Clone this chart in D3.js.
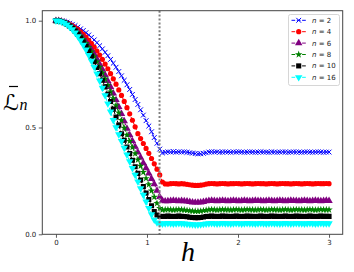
<!DOCTYPE html>
<html><head><meta charset="utf-8">
<script src="https://cdn.jsdelivr.net/npm/d3@7"></script>
<style>body{margin:0;background:#fff}svg{display:block}</style>
</head><body>
<svg id="chart" width="354" height="272"></svg>
<script>
// ---- data ----
const hStep = 0.03; // sample spacing in h (101 samples, h = 0 .. 3)
const seriesNames = ["n = 2","n = 4","n = 6","n = 8","n = 10","n = 16"];
const nLabels = ["2","4","6","8","10","16"];
const n2 = [1.000,0.9995,0.998,0.996,0.993,0.988,0.983,0.977,0.970,0.962,
0.954,0.944,0.933,0.922,0.910,0.897,0.883,0.868,0.852,0.836,
0.819,0.801,0.782,0.762,0.742,0.721,0.700,0.678,0.655,0.631,
0.608,0.583,0.558,0.532,0.507,0.480,0.453,0.426,0.399,0.381,
0.384,0.386,0.385,0.387,0.385,0.386,0.385,0.386,0.384,0.382,
0.380,0.378,0.377,0.377,0.379,0.382,0.385,0.386,0.385,0.386,
0.384,0.385,0.386,0.385,0.384,0.386,0.385,0.386,0.385,0.384,
0.385,0.386,0.385,0.384,0.385,0.386,0.385,0.385,0.384,0.386,
0.385,0.384,0.385,0.386,0.385,0.384,0.385,0.386,0.385,0.385,
0.384,0.385,0.386,0.385,0.384,0.385,0.386,0.385,0.384,0.385,
0.385];
const n4 = [1.000,0.9994,0.997,0.994,0.990,0.984,0.977,0.968,0.959,0.948,
0.936,0.923,0.908,0.893,0.876,0.858,0.839,0.819,0.797,0.775,
0.752,0.728,0.703,0.676,0.650,0.622,0.593,0.564,0.534,0.503,
0.471,0.448,0.425,0.402,0.379,0.355,0.330,0.305,0.278,0.245,
0.236,0.235,0.237,0.238,0.237,0.236,0.237,0.236,0.234,0.232,
0.230,0.229,0.229,0.230,0.232,0.235,0.237,0.238,0.237,0.236,
0.237,0.238,0.237,0.236,0.237,0.237,0.238,0.237,0.236,0.237,
0.238,0.237,0.236,0.237,0.238,0.237,0.237,0.236,0.237,0.238,
0.237,0.236,0.237,0.238,0.237,0.237,0.236,0.237,0.238,0.237,
0.236,0.237,0.238,0.237,0.236,0.237,0.238,0.237,0.237,0.238,
0.237];
const n6 = [1.000,0.9992,0.997,0.993,0.987,0.980,0.971,0.960,0.948,0.934,
0.919,0.902,0.884,0.865,0.844,0.821,0.797,0.772,0.746,0.718,
0.690,0.660,0.629,0.597,0.564,0.530,0.495,0.465,0.437,0.410,
0.384,0.359,0.334,0.310,0.285,0.260,0.235,0.205,0.175,0.158,
0.155,0.156,0.157,0.158,0.157,0.156,0.157,0.156,0.154,0.152,
0.150,0.149,0.149,0.150,0.152,0.155,0.157,0.158,0.157,0.156,
0.157,0.158,0.157,0.156,0.157,0.158,0.157,0.156,0.157,0.158,
0.157,0.156,0.157,0.158,0.157,0.157,0.156,0.157,0.158,0.157,
0.156,0.157,0.158,0.157,0.156,0.157,0.158,0.157,0.157,0.156,
0.157,0.158,0.157,0.156,0.157,0.158,0.157,0.156,0.157,0.158,
0.157];
const n8 = [1.000,0.9991,0.996,0.992,0.986,0.978,0.968,0.957,0.944,0.929,
0.913,0.895,0.876,0.855,0.832,0.808,0.783,0.756,0.728,0.698,
0.668,0.636,0.603,0.569,0.534,0.498,0.465,0.436,0.407,0.378,
0.349,0.320,0.291,0.262,0.233,0.204,0.175,0.145,0.122,0.114,
0.115,0.116,0.115,0.114,0.115,0.116,0.115,0.114,0.112,0.110,
0.109,0.108,0.108,0.109,0.111,0.113,0.115,0.116,0.115,0.114,
0.115,0.116,0.115,0.115,0.114,0.115,0.116,0.115,0.114,0.115,
0.116,0.115,0.115,0.114,0.115,0.116,0.115,0.114,0.115,0.116,
0.115,0.115,0.114,0.115,0.116,0.115,0.114,0.115,0.116,0.115,
0.115,0.114,0.115,0.116,0.115,0.114,0.115,0.116,0.115,0.115,
0.115];
const n10 = [1.000,0.9990,0.996,0.991,0.984,0.975,0.964,0.951,0.936,0.919,
0.900,0.880,0.858,0.834,0.808,0.781,0.752,0.721,0.690,0.656,
0.622,0.586,0.549,0.511,0.471,0.440,0.409,0.378,0.347,0.316,
0.285,0.254,0.223,0.193,0.163,0.134,0.107,0.090,0.084,0.083,
0.084,0.085,0.084,0.083,0.084,0.085,0.084,0.083,0.082,0.080,
0.079,0.078,0.078,0.079,0.081,0.083,0.084,0.085,0.084,0.083,
0.084,0.085,0.084,0.084,0.083,0.084,0.085,0.084,0.083,0.084,
0.085,0.084,0.084,0.083,0.084,0.085,0.084,0.083,0.084,0.085,
0.084,0.084,0.083,0.084,0.085,0.084,0.083,0.084,0.085,0.084,
0.084,0.083,0.084,0.085,0.084,0.083,0.084,0.085,0.084,0.084,
0.084];
const n16 = [1.000,0.9988,0.995,0.990,0.982,0.971,0.959,0.944,0.927,0.908,
0.887,0.864,0.839,0.812,0.783,0.752,0.719,0.685,0.650,0.612,
0.574,0.534,0.500,0.468,0.436,0.404,0.373,0.341,0.310,0.278,
0.247,0.215,0.184,0.153,0.122,0.093,0.068,0.055,0.051,0.050,
0.051,0.052,0.051,0.050,0.051,0.052,0.051,0.050,0.049,0.047,
0.046,0.045,0.045,0.046,0.048,0.050,0.051,0.052,0.051,0.050,
0.051,0.052,0.051,0.051,0.050,0.051,0.052,0.051,0.050,0.051,
0.052,0.051,0.051,0.050,0.051,0.052,0.051,0.050,0.051,0.052,
0.051,0.051,0.050,0.051,0.052,0.051,0.050,0.051,0.052,0.051,
0.051,0.050,0.051,0.052,0.051,0.050,0.051,0.052,0.051,0.051,
0.051];
const criticalH = 1.138;
const xTicks = [0, 1, 2, 3];
const yTicks = [0.0, 0.5, 1.0];
const yTickLabels = ["0.0", "0.5", "1.0"];

// ---- styling ----
const colors = ["blue", "red", "purple", "green", "black", "cyan"];
const markers = ["x", "circle", "triUp", "star", "square", "triDown"];
const allSeries = [n2, n4, n6, n8, n10, n16];

const svg = d3.select("#chart");
const L = 42.3, R = 342.7, T = 10.7, B = 234.3;
const x = d3.scaleLinear().domain([-0.15, 3.15]).range([L, R]);
const y = d3.scaleLinear().domain([0, 1.0468]).range([B, T]);

svg.append("defs").append("clipPath").attr("id", "clip")
  .append("rect").attr("x", L).attr("y", T).attr("width", R - L).attr("height", B - T);

function markerPath(type) {
  switch (type) {
    case "circle": return d3.symbol(d3.symbolCircle, 21)();
    case "square": return d3.symbol(d3.symbolSquare, 26)();
    case "triUp": return d3.symbol(d3.symbolTriangle, 24)();
    case "triDown": return d3.symbol(d3.symbolTriangle, 24)();
    case "star": return d3.symbol(d3.symbolStar, 17)();
    case "x": return "M-2.4,-2.4L2.4,2.4M-2.4,2.4L2.4,-2.4";
  }
}
function drawMarker(g, type, color, cx, cy) {
  const p = g.append("path").attr("d", markerPath(type))
    .attr("transform", `translate(${cx},${cy})` + (type === "triDown" ? " rotate(180)" : ""));
  if (type === "x") p.attr("fill", "none").attr("stroke", color).attr("stroke-width", 1);
  else p.attr("fill", color).attr("stroke", "none");
}

const plot = svg.append("g").attr("clip-path", "url(#clip)");
const line = d3.line().x((d, i) => x(i * hStep)).y(d => y(d));
allSeries.forEach((vals, k) => {
  const g = plot.append("g");
  g.append("path").datum(vals).attr("d", line)
    .attr("fill", "none").attr("stroke", colors[k]).attr("stroke-width", 1)
    .attr("stroke-dasharray", "3.7,1.6");
  vals.forEach((v, i) => drawMarker(g, markers[k], colors[k], x(i * hStep), y(v)));
});

// critical line
svg.append("line").attr("x1", x(criticalH)).attr("x2", x(criticalH))
  .attr("y1", T).attr("y2", B)
  .attr("stroke", "gray").attr("stroke-width", 2).attr("stroke-dasharray", "2,1.9");

// axes
const xAxis = d3.axisBottom(x).tickValues(xTicks).tickSize(3.5).tickPadding(2.5).tickFormat(d3.format("d"));
const yAxis = d3.axisLeft(y).tickValues(yTicks).tickSize(3.5).tickPadding(2.5).tickFormat((d, i) => yTickLabels[i]);
const gx = svg.append("g").attr("transform", `translate(0,${B})`).call(xAxis);
const gy = svg.append("g").attr("transform", `translate(${L},0)`).call(yAxis);
[gx, gy].forEach(g => {
  g.select(".domain").remove();
  g.selectAll(".tick line").attr("stroke", "#333").attr("stroke-width", 0.8);
  g.selectAll(".tick text").attr("font-family", "DejaVu Sans").attr("font-size", 7).attr("fill", "#222");
});
// frame
svg.append("rect").attr("x", L).attr("y", T).attr("width", R - L).attr("height", B - T)
  .attr("fill", "none").attr("stroke", "#444").attr("stroke-width", 1);

// axis labels
svg.append("text").attr("x", 188).attr("y", 261).attr("text-anchor", "middle")
  .attr("font-family", "Liberation Serif").attr("font-style", "italic").attr("font-size", 28)
  .attr("fill", "#000").text("h");
const yl = svg.append("g");
yl.append("text").attr("x", 3).attr("y", 110).attr("font-family", "DejaVu Sans")
  .attr("font-size", 22).attr("fill", "#000").text("ℒ");
yl.append("line").attr("x1", 9).attr("x2", 18).attr("y1", 86.5).attr("y2", 86.5)
  .attr("stroke", "#000").attr("stroke-width", 1.2);
yl.append("text").attr("x", 19.5).attr("y", 110).attr("font-family", "Liberation Serif")
  .attr("font-style", "italic").attr("font-size", 16).attr("fill", "#000").text("n");

// legend
const lg = svg.append("g");
lg.append("rect").attr("x", 288.5).attr("y", 14.5).attr("width", 51).attr("height", 71)
  .attr("rx", 2).attr("fill", "#fff").attr("fill-opacity", 0.8).attr("stroke", "#ccc").attr("stroke-width", 0.8);
seriesNames.forEach((name, k) => {
  const cy = 20.3 + k * 11.4;
  lg.append("line").attr("x1", 291.5).attr("x2", 306).attr("y1", cy).attr("y2", cy)
    .attr("stroke", colors[k]).attr("stroke-width", 1).attr("stroke-dasharray", "3.7,1.6");
  drawMarker(lg, markers[k], colors[k], 298.7, cy);
  const t = lg.append("text").attr("x", 312).attr("y", cy + 2.5)
    .attr("font-family", "DejaVu Sans").attr("font-size", 7).attr("fill", "#222");
  t.append("tspan").attr("font-style", "italic").text("n");
  t.append("tspan").text(" = " + nLabels[k]);
});
</script>
</body></html>
